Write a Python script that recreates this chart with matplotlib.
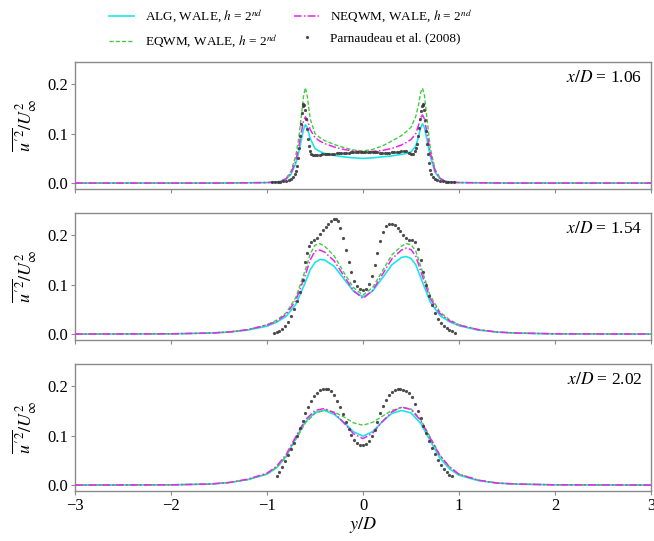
import numpy as np
import matplotlib
matplotlib.use("Agg")
import matplotlib.pyplot as plt

plt.rcParams['font.family'] = ['Liberation Serif', 'DejaVu Serif']
plt.rcParams['mathtext.fontset'] = 'stix'

# ---------------- data ----------------
stations = ["1.06", "1.54", "2.02"]

# Panel 1 (x/D = 1.06) simulations
y1_sim = [-3, -1.5, -1.0, -0.9, -0.85, -0.8, -0.75, -0.7, -0.67, -0.64, -0.62, -0.6, -0.58, -0.55,
          -0.5, -0.45, -0.4, -0.3, -0.2, -0.1, 0, 0.1, 0.2, 0.3, 0.4, 0.45, 0.5, 0.55, 0.58, 0.6,
          0.62, 0.64, 0.67, 0.7, 0.75, 0.8, 0.85, 0.9, 1.0, 1.5, 3]
alg1 = [0, 0, 0.001, 0.002, 0.004, 0.008, 0.018, 0.040, 0.062, 0.090, 0.108, 0.118, 0.112, 0.090,
        0.070, 0.064, 0.060, 0.056, 0.053, 0.051, 0.050, 0.051, 0.053, 0.055, 0.058, 0.060, 0.063,
        0.075, 0.095, 0.112, 0.120, 0.112, 0.085, 0.055, 0.022, 0.009, 0.004, 0.002, 0.001, 0, 0]
neq1 = [0, 0, 0.001, 0.002, 0.004, 0.009, 0.020, 0.045, 0.072, 0.105, 0.125, 0.134, 0.128, 0.108,
        0.092, 0.085, 0.080, 0.073, 0.068, 0.065, 0.063, 0.064, 0.066, 0.070, 0.077, 0.082, 0.088,
        0.100, 0.118, 0.132, 0.138, 0.130, 0.098, 0.062, 0.025, 0.010, 0.004, 0.002, 0.001, 0, 0]
eq1 = [0, 0, 0.001, 0.002, 0.004, 0.010, 0.024, 0.055, 0.090, 0.140, 0.175, 0.193, 0.175, 0.130,
       0.100, 0.092, 0.086, 0.078, 0.072, 0.067, 0.065, 0.068, 0.075, 0.085, 0.096, 0.104, 0.113,
       0.135, 0.160, 0.183, 0.192, 0.178, 0.125, 0.072, 0.028, 0.011, 0.004, 0.002, 0.001, 0, 0]

# Panel 1 experiment
y1_exp = [-0.95, -0.92, -0.89, -0.86, -0.83, -0.8, -0.77, -0.745, -0.725, -0.71, -0.7, -0.69, -0.68,
          -0.67, -0.66, -0.65, -0.64, -0.63, -0.62, -0.61, -0.6, -0.59, -0.58, -0.57, -0.56, -0.55,
          -0.54, -0.52, -0.5, -0.475, -0.45, -0.425, -0.4, -0.375, -0.35, -0.325, -0.3, -0.275,
          -0.25, -0.225, -0.2, -0.175, -0.15, -0.125, -0.1, -0.075, -0.05, -0.025, 0.0, 0.025,
          0.05, 0.075, 0.1, 0.125, 0.15, 0.175, 0.2, 0.225, 0.25, 0.275, 0.3, 0.325, 0.35, 0.375,
          0.4, 0.425, 0.45, 0.475, 0.5, 0.52, 0.54, 0.55, 0.56, 0.57, 0.58, 0.59, 0.6, 0.61, 0.62,
          0.63, 0.64, 0.65, 0.66, 0.67, 0.68, 0.69, 0.7, 0.71, 0.725, 0.745, 0.77, 0.8, 0.83,
          0.86, 0.89, 0.92, 0.95]
exp1 = [0.002, 0.002, 0.003, 0.003, 0.004, 0.005, 0.006, 0.008, 0.012, 0.018, 0.025, 0.035, 0.050,
        0.070, 0.095, 0.120, 0.142, 0.156, 0.160, 0.157, 0.148, 0.130, 0.110, 0.090, 0.075, 0.065,
        0.059, 0.056, 0.056, 0.056, 0.057, 0.058, 0.058, 0.058, 0.059, 0.059, 0.059, 0.060,
        0.060, 0.060, 0.060, 0.061, 0.061, 0.062, 0.062, 0.062, 0.063, 0.063, 0.063, 0.063,
        0.062, 0.062, 0.062, 0.062, 0.062, 0.061, 0.061, 0.061, 0.061, 0.061, 0.062, 0.062, 0.062,
        0.063, 0.064, 0.065, 0.064, 0.061, 0.058, 0.059, 0.064, 0.070, 0.080, 0.095, 0.112, 0.130,
        0.145, 0.155, 0.160, 0.158, 0.148, 0.128, 0.105, 0.080, 0.058, 0.040, 0.027, 0.018, 0.012,
        0.008, 0.006, 0.005, 0.004, 0.003, 0.003, 0.002, 0.002]

# Panel 2 (x/D = 1.54) simulations
y2_sim = [-3, -2, -1.6, -1.4, -1.2, -1.0, -0.9, -0.8, -0.7, -0.6, -0.55, -0.5, -0.45, -0.4, -0.3,
          -0.2, -0.1, 0, 0.1, 0.2, 0.3, 0.4, 0.45, 0.5, 0.55, 0.6, 0.7, 0.8, 0.9, 1.0, 1.2, 1.4,
          1.6, 2, 3]
alg2 = [0, 0.0005, 0.002, 0.004, 0.008, 0.016, 0.024, 0.036, 0.060, 0.105, 0.130, 0.145, 0.151,
        0.150, 0.137, 0.112, 0.087, 0.075, 0.087, 0.113, 0.140, 0.155, 0.157, 0.153, 0.140, 0.115,
        0.065, 0.038, 0.025, 0.017, 0.008, 0.004, 0.002, 0.0005, 0]
neq2 = [0, 0.0005, 0.002, 0.004, 0.009, 0.018, 0.026, 0.040, 0.068, 0.120, 0.150, 0.168, 0.170,
        0.166, 0.148, 0.118, 0.088, 0.072, 0.088, 0.120, 0.152, 0.170, 0.174, 0.171, 0.158, 0.128,
        0.072, 0.042, 0.027, 0.018, 0.009, 0.004, 0.002, 0.0005, 0]
eq2 = [0, 0.0005, 0.002, 0.004, 0.009, 0.019, 0.028, 0.043, 0.074, 0.130, 0.162, 0.180, 0.183,
       0.178, 0.158, 0.125, 0.094, 0.079, 0.094, 0.127, 0.160, 0.178, 0.183, 0.181, 0.168, 0.138,
       0.078, 0.045, 0.029, 0.019, 0.009, 0.004, 0.002, 0.0005, 0]

# Panel 2 experiment
y2_exp = [-0.93, -0.9, -0.87, -0.84, -0.81, -0.78, -0.75, -0.72, -0.69, -0.66, -0.63, -0.6, -0.58,
          -0.56, -0.54, -0.51, -0.48, -0.45, -0.42, -0.39, -0.36, -0.33, -0.3, -0.28, -0.26, -0.24,
          -0.21, -0.18, -0.15, -0.12, -0.09, -0.06, -0.03, 0.0, 0.03, 0.06, 0.09, 0.12, 0.15, 0.18,
          0.21, 0.24, 0.27, 0.3, 0.33, 0.36, 0.39, 0.42, 0.45, 0.48, 0.51, 0.54, 0.57, 0.6, 0.63,
          0.66, 0.69, 0.72, 0.75, 0.78, 0.81, 0.84, 0.87, 0.9, 0.93, 0.96]
exp2 = [0.002, 0.004, 0.007, 0.011, 0.017, 0.025, 0.036, 0.050, 0.066, 0.085, 0.110, 0.145, 0.165,
        0.178, 0.186, 0.190, 0.195, 0.203, 0.210, 0.216, 0.222, 0.228, 0.232, 0.233, 0.228, 0.215,
        0.195, 0.170, 0.145, 0.125, 0.108, 0.097, 0.091, 0.089, 0.092, 0.102, 0.118, 0.140, 0.165,
        0.188, 0.207, 0.218, 0.222, 0.222, 0.220, 0.215, 0.208, 0.200, 0.195, 0.190, 0.190, 0.186,
        0.172, 0.150, 0.125, 0.100, 0.078, 0.058, 0.042, 0.030, 0.022, 0.016, 0.012, 0.009, 0.006,
        0.003]

# Panel 3 (x/D = 2.02) simulations
y3_sim = [-3, -2, -1.6, -1.4, -1.2, -1.0, -0.9, -0.8, -0.7, -0.6, -0.5, -0.4, -0.3, -0.2, -0.1, 0,
          0.1, 0.2, 0.3, 0.4, 0.5, 0.6, 0.7, 0.8, 0.9, 1.0, 1.2, 1.4, 1.6, 2, 3]
alg3 = [0, 0.0005, 0.002, 0.005, 0.011, 0.022, 0.035, 0.058, 0.095, 0.128, 0.147, 0.151, 0.143,
        0.127, 0.108, 0.099, 0.108, 0.128, 0.145, 0.151, 0.146, 0.125, 0.090, 0.055, 0.033, 0.020,
        0.009, 0.004, 0.002, 0.0005, 0]
neq3 = [0, 0.0005, 0.002, 0.005, 0.012, 0.024, 0.038, 0.062, 0.098, 0.132, 0.151, 0.155, 0.146,
        0.126, 0.104, 0.094, 0.105, 0.128, 0.148, 0.158, 0.153, 0.131, 0.095, 0.060, 0.037, 0.022,
        0.010, 0.004, 0.002, 0.0005, 0]
eq3 = [0, 0.0005, 0.002, 0.005, 0.011, 0.023, 0.036, 0.058, 0.092, 0.126, 0.145, 0.152, 0.148,
       0.138, 0.126, 0.121, 0.127, 0.139, 0.151, 0.157, 0.154, 0.133, 0.097, 0.061, 0.037, 0.022,
       0.010, 0.004, 0.002, 0.0005, 0]

# Panel 3 experiment
y3_exp = [-0.9, -0.87, -0.84, -0.81, -0.78, -0.75, -0.72, -0.69, -0.66, -0.63, -0.6, -0.57, -0.54,
          -0.51, -0.48, -0.45, -0.42, -0.39, -0.36, -0.33, -0.3, -0.27, -0.24, -0.21, -0.18, -0.15,
          -0.12, -0.09, -0.06, -0.03, 0.0, 0.03, 0.06, 0.09, 0.12, 0.15, 0.18, 0.21, 0.24, 0.27,
          0.3, 0.33, 0.36, 0.39, 0.42, 0.45, 0.48, 0.51, 0.54, 0.57, 0.6, 0.63, 0.66, 0.69, 0.72,
          0.75, 0.78, 0.81, 0.84, 0.87, 0.9, 0.93]
exp3 = [0.018, 0.026, 0.036, 0.048, 0.060, 0.072, 0.086, 0.100, 0.115, 0.130, 0.145, 0.158, 0.170,
        0.180, 0.187, 0.192, 0.194, 0.195, 0.194, 0.190, 0.182, 0.170, 0.157, 0.143, 0.128, 0.114,
        0.102, 0.092, 0.085, 0.082, 0.081, 0.083, 0.089, 0.099, 0.112, 0.128, 0.145, 0.160, 0.173,
        0.183, 0.189, 0.193, 0.194, 0.194, 0.192, 0.191, 0.187, 0.178, 0.165, 0.150, 0.135, 0.120,
        0.105, 0.090, 0.076, 0.063, 0.051, 0.041, 0.033, 0.026, 0.021, 0.018]

panels = [
    (y1_sim, alg1, eq1, neq1, y1_exp, exp1),
    (y2_sim, alg2, eq2, neq2, y2_exp, exp2),
    (y3_sim, alg3, eq3, neq3, y3_exp, exp3),
]

labels = [r"ALG, WALE, $h$ = 2$^{nd}$", r"EQWM, WALE, $h$ = 2$^{nd}$",
          r"NEQWM, WALE, $h$ = 2$^{nd}$", "Parnaudeau et al. (2008)"]
xticks = [-3, -2, -1, 0, 1, 2, 3]
yticks = [0.0, 0.1, 0.2]

# ---------------- plot ----------------
W, H = 654, 541
fig = plt.figure(figsize=(W / 100, H / 100), dpi=100)
boxes = [(62, 189), (213, 340), (364, 491)]
left, right = 75, 651
spine_col = '#8a8a8a'
handles = None
axes = []
for i, ((top, bot), (ys, a, e, n, ye, ex)) in enumerate(zip(boxes, panels)):
    ax = fig.add_axes([left / W, 1 - bot / H, (right - left) / W, (bot - top) / H])
    axes.append(ax)
    h1, = ax.plot(ys, a, color='#19e6e6', lw=1.2, ls='-', zorder=3)
    h2, = ax.plot(ys, e, color='#44cc44', lw=1.0, ls=(0, (3, 1.5)), zorder=3)
    h3, = ax.plot(ys, n, color='#ee22ee', lw=1.1, ls=(0, (5, 1.5, 1, 1.5)), zorder=3)
    h4, = ax.plot(ye, ex, ls='none', marker='o', ms=2.3, mfc='#3a3a3a', mec='none',
                  alpha=0.9, zorder=4)
    if handles is None:
        handles = [h1, h2, h3, h4]
    ax.set_xlim(-3, 3)
    ax.set_ylim(-0.012, 0.245)
    ax.set_xticks(xticks)
    ax.set_yticks(yticks)
    ax.set_yticklabels([f"{v:.1f}" for v in yticks], fontsize=12)
    if i < 2:
        ax.set_xticklabels([])
    else:
        ax.set_xticklabels([str(v).replace('-', '\u2212') for v in xticks], fontsize=12)
        ax.set_xlabel(r"$y/D$", fontsize=13, labelpad=1)
    ax.set_ylabel(r"$\overline{u'^2}/U_\infty^2$", fontsize=13, labelpad=6)
    for s in ax.spines.values():
        s.set_color(spine_col)
        s.set_linewidth(1.0)
    ax.tick_params(direction='out', length=3, width=0.8, color=spine_col, pad=2)
    ax.text(0.985, 0.94, r"$x/D$ = " + stations[i], transform=ax.transAxes,
            ha='right', va='top', fontsize=12.5)

fig.legend(handles, labels, loc='upper left', bbox_to_anchor=(101 / W, 1.0), ncol=2,
           frameon=False, fontsize=9.5, handlelength=1.9, columnspacing=1.3,
           handletextpad=0.8, labelspacing=0.55, borderaxespad=0.2)

fig.savefig("out.png", dpi=100)
